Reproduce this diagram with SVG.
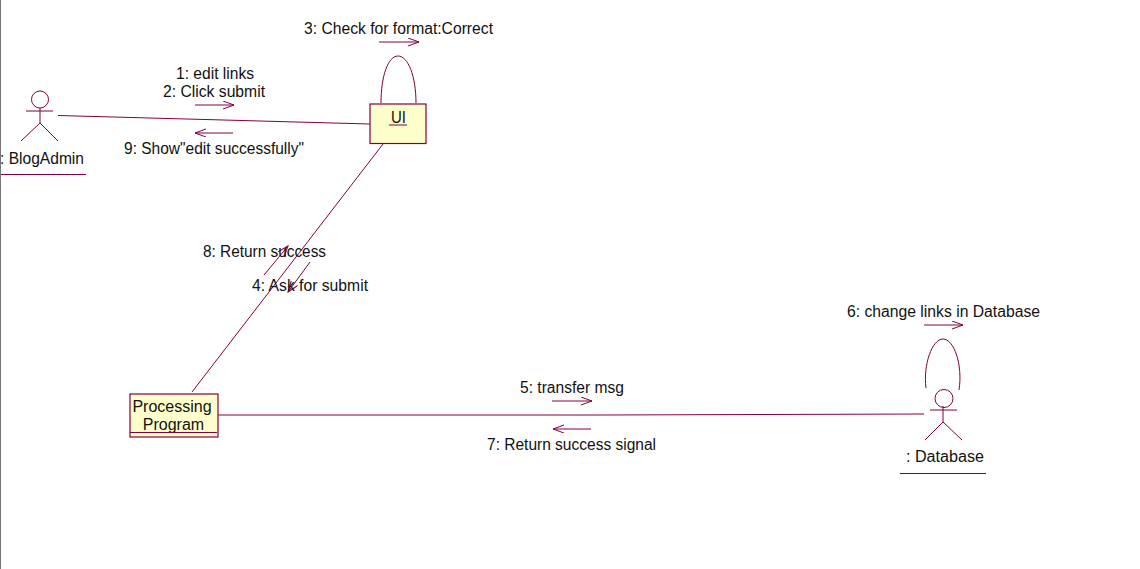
<svg xmlns="http://www.w3.org/2000/svg" width="1140" height="569" viewBox="0 0 1140 569">
<style>
.l{fill:none;stroke:#800040;stroke-width:1}
.t{font-family:"Liberation Sans",Arial,sans-serif;font-size:16px;fill:#111}
.m{text-anchor:middle}
.b{fill:#ffffcb;stroke:#800040;stroke-width:1.2}
</style>
<defs>
<marker id="a" markerWidth="12" markerHeight="10" refX="11" refY="4" orient="auto" markerUnits="userSpaceOnUse"><path d="M0 0L11 4L0 8" fill="none" stroke="#800040"/></marker>
</defs>
<rect width="1140" height="569" fill="#fff"/>
<g id="connectors">
<path class="l" d="M58 115.500L370 124"/>
<path class="l" d="M383 144L192 392"/>
<path class="l" d="M218 415L600 415L924 414"/>
<path class="l" d="M381 103C381 76 388 56 398 56C408 56 416 76 416 103"/>
<path class="l" d="M926 388C923 365 932 339 943 339C954 339 963 365 959 390"/>
<path class="l" marker-end="url(#a)" d="M195 105L234 105"/>
<path class="l" marker-end="url(#a)" d="M233 133L195 133"/>
<path class="l" marker-end="url(#a)" d="M379 42L419 42"/>
<path class="l" marker-end="url(#a)" d="M264 275L288 246"/>
<path class="l" marker-end="url(#a)" d="M310 262L288 292"/>
<path class="l" marker-end="url(#a)" d="M552 401L592 401"/>
<path class="l" marker-end="url(#a)" d="M591 429L553 429"/>
<path class="l" marker-end="url(#a)" d="M924 325L963 325"/>
</g>
<g id="blogadmin">
<circle class="l" cx="40" cy="99.500" r="8.500"/>
<path class="l" d="M26 111L53 111M40 108L40 123M21 141L40 123L58 141M0.500 174.500L86 174.500"/>
<text class="t" x="0" y="164" textLength="84" lengthAdjust="spacingAndGlyphs">: BlogAdmin</text>
</g>
<g id="ui">
<rect class="b" x="370" y="104" width="56" height="39.500"/>
<text class="t" x="391" y="123" textLength="15" lengthAdjust="spacingAndGlyphs">UI</text>
<path class="l" d="M389 125L407 125"/>
</g>
<g id="processing">
<rect class="b" x="130" y="394" width="88" height="43"/>
<text class="t m" x="172" y="412">Processing</text>
<text class="t m" x="173.500" y="430">Program</text>
<path class="l" d="M130 432.500L217 432.500"/>
</g>
<g id="database">
<circle class="l" cx="944" cy="398.500" r="9"/>
<path class="l" d="M930 410L957 410M943 406L943 422M925 440L943 422L962 440M900 473.500L986 473.500"/>
<text class="t" x="906" y="462" textLength="78" lengthAdjust="spacingAndGlyphs">: Database</text>
</g>
<g id="labels">
<text class="t" x="176" y="79" textLength="78" lengthAdjust="spacingAndGlyphs">1: edit links</text>
<text class="t" x="163" y="97" textLength="102" lengthAdjust="spacingAndGlyphs">2: Click submit</text>
<text class="t" x="124" y="154" textLength="180" lengthAdjust="spacingAndGlyphs">9: Show"edit successfully"</text>
<text class="t" x="304" y="34" textLength="189" lengthAdjust="spacingAndGlyphs">3: Check for format:Correct</text>
<text class="t" x="203" y="257" textLength="123" lengthAdjust="spacingAndGlyphs">8: Return success</text>
<text class="t" x="252" y="291" textLength="116" lengthAdjust="spacingAndGlyphs">4: Ask for submit</text>
<text class="t" x="520" y="393" textLength="104" lengthAdjust="spacingAndGlyphs">5: transfer msg</text>
<text class="t" x="487" y="450" textLength="169" lengthAdjust="spacingAndGlyphs">7: Return success signal</text>
<text class="t" x="847" y="317" textLength="193" lengthAdjust="spacingAndGlyphs">6: change links in Database</text>
</g>
<rect x="0" y="0" width="1" height="569" fill="#777"/>
</svg>
